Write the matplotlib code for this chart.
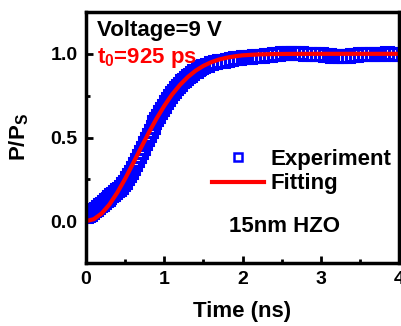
import matplotlib
matplotlib.use("Agg")
import matplotlib.pyplot as plt
from matplotlib.lines import Line2D

plt.rcParams['font.family'] = ['Liberation Sans', 'DejaVu Sans']
plt.rcParams['font.weight'] = 'bold'
plt.rcParams['mathtext.fontset'] = 'custom'
plt.rcParams['mathtext.rm'] = 'Liberation Sans:bold'
plt.rcParams['mathtext.it'] = 'Liberation Sans:bold'
plt.rcParams['mathtext.bf'] = 'Liberation Sans:bold'

# Experiment data (time in ns, normalized polarization)
exp_t = [0.000, 0.025, 0.050, 0.075, 0.100, 0.125, 0.150, 0.175, 0.200, 0.225,
         0.250, 0.275, 0.300, 0.325, 0.350, 0.375, 0.400, 0.425, 0.450, 0.475,
         0.500, 0.525, 0.550, 0.575, 0.600, 0.625, 0.650, 0.675, 0.700, 0.725,
         0.750, 0.775, 0.800, 0.825, 0.850, 0.875, 0.900, 0.925, 0.950, 0.975,
         1.000, 1.025, 1.050, 1.075, 1.100, 1.125, 1.150, 1.175, 1.200, 1.225,
         1.250, 1.275, 1.300, 1.325, 1.350, 1.375, 1.400, 1.425, 1.450, 1.475,
         1.500, 1.55, 1.60, 1.65, 1.70, 1.75, 1.80, 1.85, 1.90, 1.95,
         2.00, 2.05, 2.10, 2.15, 2.20, 2.25, 2.30, 2.35, 2.40, 2.45,
         2.50, 2.55, 2.60, 2.65, 2.70, 2.75, 2.80, 2.85, 2.90, 2.95,
         3.00, 3.05, 3.10, 3.15, 3.20, 3.25, 3.30, 3.35, 3.40, 3.45,
         3.50, 3.55, 3.60, 3.65, 3.70, 3.75, 3.80, 3.85, 3.90, 3.95, 4.00]
exp_p = [0.030, 0.035, 0.045, 0.055, 0.065, 0.075, 0.085, 0.095, 0.105, 0.115,
         0.125, 0.135, 0.145, 0.155, 0.165, 0.175, 0.185, 0.195, 0.205, 0.220,
         0.235, 0.255, 0.275, 0.295, 0.315, 0.340, 0.365, 0.390, 0.415, 0.440,
         0.465, 0.490, 0.515, 0.540, 0.565, 0.590, 0.610, 0.630, 0.650, 0.670,
         0.690, 0.710, 0.730, 0.750, 0.765, 0.780, 0.795, 0.810, 0.820, 0.835,
         0.845, 0.855, 0.865, 0.875, 0.885, 0.895, 0.900, 0.910, 0.915, 0.920,
         0.925, 0.935, 0.945, 0.950, 0.955, 0.960, 0.965, 0.970, 0.975, 0.978,
         0.980, 0.982, 0.984, 0.985, 0.987, 0.990, 0.992, 0.995, 0.997, 1.000,
         1.003, 1.005, 1.006, 1.006, 1.005, 1.003, 1.001, 0.999, 0.998, 0.998,
         0.997, 0.995, 0.993, 0.990, 0.988, 0.987, 0.988, 0.990, 0.992, 0.995,
         0.997, 0.999, 1.000, 1.000, 1.000, 1.000, 1.001, 1.002, 1.001, 1.000, 1.000]

# Fitting curve
fit_t = [0.0, 0.1, 0.2, 0.3, 0.4, 0.5, 0.6, 0.7, 0.8, 0.9, 1.0, 1.1, 1.2, 1.3,
         1.4, 1.5, 1.6, 1.7, 1.8, 1.9, 2.0, 2.2, 2.4, 2.6, 3.0, 3.5, 4.0]
fit_p = [0.000, 0.012, 0.046, 0.100, 0.171, 0.253, 0.344, 0.436, 0.527, 0.612,
         0.689, 0.757, 0.814, 0.861, 0.899, 0.928, 0.950, 0.966, 0.977, 0.985,
         0.991, 0.9965, 0.9988, 0.9996, 1.000, 1.000, 1.000]

x_ticks = [0, 1, 2, 3, 4]
y_ticks = [0.0, 0.5, 1.0]
y_ticklabels = ['0.0', '0.5', '1.0']

W, H = 401, 326
fig = plt.figure(figsize=(W / 100, H / 100), dpi=100)
ax = fig.add_axes([86 / W, 1 - 263 / H, (399 - 86) / W, (263 - 12) / H])

ax.plot(exp_t, exp_p, linestyle='none', marker='s', markersize=8,
        markerfacecolor='none', markeredgecolor='#0000ff', markeredgewidth=2.2)
ax.plot(fit_t, fit_p, color='#ff0000', linewidth=3)

ax.set_xlim(0, 4)
ax.set_ylim(-0.245, 1.25)
ax.set_xticks(x_ticks)
ax.set_xticklabels([str(v) for v in x_ticks])
ax.set_yticks(y_ticks)
ax.set_yticklabels(y_ticklabels)
ax.set_xticks([0.5, 1.5, 2.5, 3.5], minor=True)
ax.set_yticks([-0.25, 0.25, 0.75], minor=True)

for s in ax.spines.values():
    s.set_linewidth(2.5)
ax.tick_params(which='both', direction='in', width=2, labelsize=14)
ax.tick_params(which='major', length=5, pad=6)
ax.tick_params(which='minor', length=3)

ax.set_xlabel('Time (ns)', fontsize=16, fontweight='bold', labelpad=9)
ax.set_ylabel(r'P/P$_\mathrm{S}$', fontsize=16, fontweight='bold', labelpad=14)

fig.text(97 / W, 1 - 36 / H, 'Voltage=9 V', fontsize=16, fontweight='bold',
         color='black', va='baseline', ha='left')
fig.text(97 / W, 1 - 63 / H, r't$_\mathrm{0}$=925 ps', fontsize=16,
         fontweight='bold', color='#ff0000', va='baseline', ha='left')

handles = [Line2D([], [], linestyle='none', marker='s', markersize=6,
                  markerfacecolor='none', markeredgecolor='#0000ff', markeredgewidth=1.8),
           Line2D([], [], color='#ff0000', linewidth=3)]
ax.legend(handles, ['Experiment', 'Fitting'], loc='upper left',
          bbox_to_anchor=(212 / W, 1 - 149 / H), bbox_transform=fig.transFigure,
          frameon=False, fontsize=16, handlelength=2.35, handletextpad=0.27,
          labelspacing=0.15, borderpad=0, borderaxespad=0)

fig.text(229 / W, 1 - 232 / H, '15nm HZO', fontsize=16, fontweight='bold',
         color='black', va='baseline', ha='left')

fig.savefig('out.png', dpi=100)
